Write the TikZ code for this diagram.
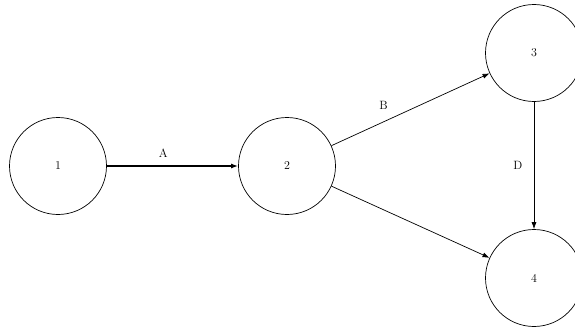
\documentclass[tikz,border=0pt]{standalone}
\usetikzlibrary{arrows.meta}
\begin{document}
\begin{tikzpicture}[x=1pt,y=-1pt,
  evt/.style={draw, circle, line width=0.7pt, minimum size=97pt, inner sep=0pt, font=\large},
  act/.style={line width=0.7pt, -{Latex[length=7pt,width=5pt]}},
  lbl/.style={font=\large}]
\useasboundingbox (0,0) rectangle (575,329);
\node[evt] (n1) at (58,166) {1};
\node[evt] (n2) at (287,166) {2};
\node[evt] (n3) at (534,53) {3};
\node[evt] (n4) at (534,278) {4};
\draw[act, line width=2pt] (n1) -- node[lbl, above=4pt, pos=0.43] {A} (n2);
\draw[act] (n2) -- node[lbl, above=9pt, pos=0.33] {B} (n3);
\draw[act] (n3) -- node[lbl, left=8pt] {D} (n4);
\draw[act] (n2) -- (n4);
\end{tikzpicture}
\end{document}
